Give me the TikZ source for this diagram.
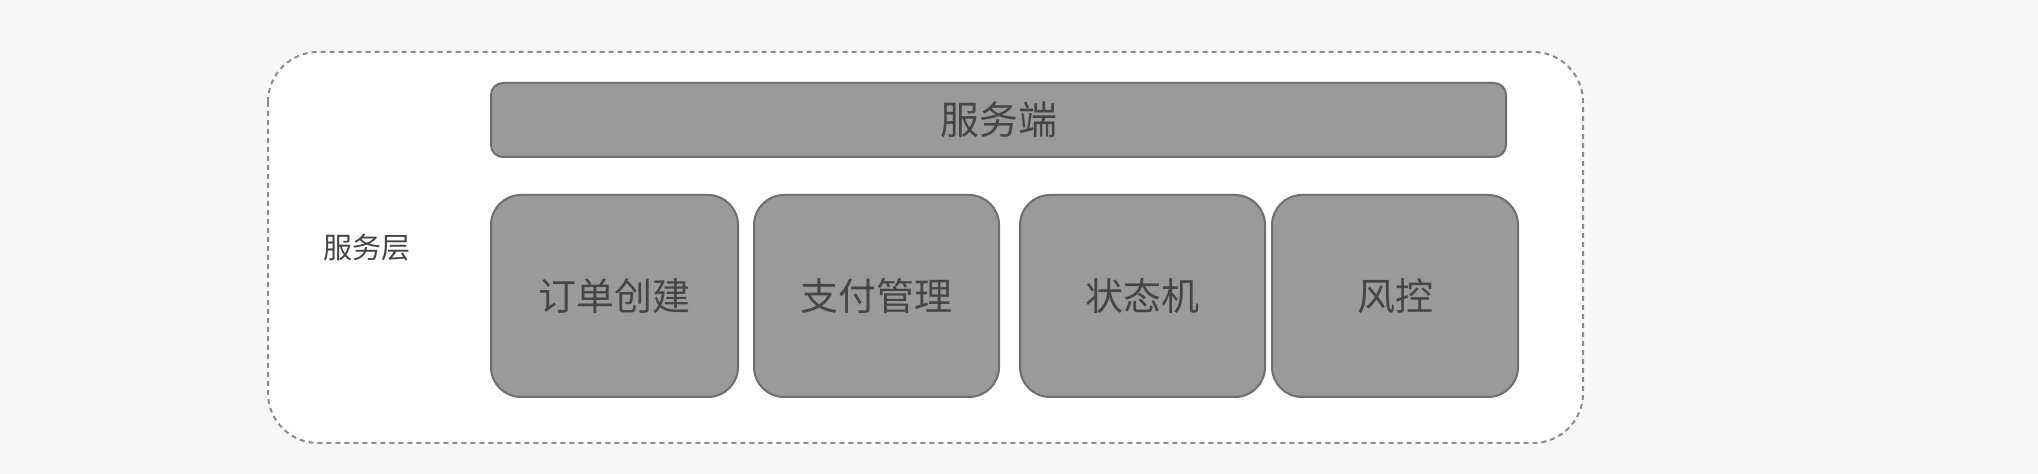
\documentclass[tikz,border=0pt]{standalone}
\usepackage{fontspec}
\setmainfont{Noto Sans CJK SC}
\usetikzlibrary{positioning}

\definecolor{boxfill}{HTML}{9A9A9A}
\definecolor{boxline}{HTML}{6E6E6E}
\definecolor{boxtext}{HTML}{454545}
\definecolor{pagebg}{HTML}{F7F7F7}

\tikzset{
  module/.style={draw=boxline, line width=1pt, fill=boxfill, rounded corners=15pt,
    text=boxtext, font=\fontsize{19pt}{22pt}\selectfont, inner sep=0pt},
}

\begin{document}
\begin{tikzpicture}[x=0.5pt, y=-0.5pt]
\fill[pagebg] (0,0) rectangle (2038,474);
\useasboundingbox (0,0) rectangle (2038,474);

% outer layer
\draw[fill=white, draw=gray!90, line width=1pt, dash pattern=on 2.5pt off 2pt, rounded corners=25pt]
  (268,52) rectangle (1583,443);
\node[text=boxtext, font=\fontsize{14.5pt}{17pt}\selectfont] (layer) at (367,248) {服务层};

% server bar
\node[module, rounded corners=6pt, minimum width=507.5pt, minimum height=37pt,
  font=\fontsize{19.5pt}{22pt}\selectfont] (server) at (998.5,120) {服务端};

% modules
\node[module, minimum width=123.5pt, minimum height=101pt] (order) at (614.5,296) {订单创建};
\node[module, minimum width=122.5pt, minimum height=101pt] (pay) at (876.5,296) {支付管理};
\node[module, minimum width=122.5pt, minimum height=101pt] (state) at (1142.5,296) {状态机};
\node[module, minimum width=123pt, minimum height=101pt] (risk) at (1395,296) {风控};

\end{tikzpicture}
\end{document}
